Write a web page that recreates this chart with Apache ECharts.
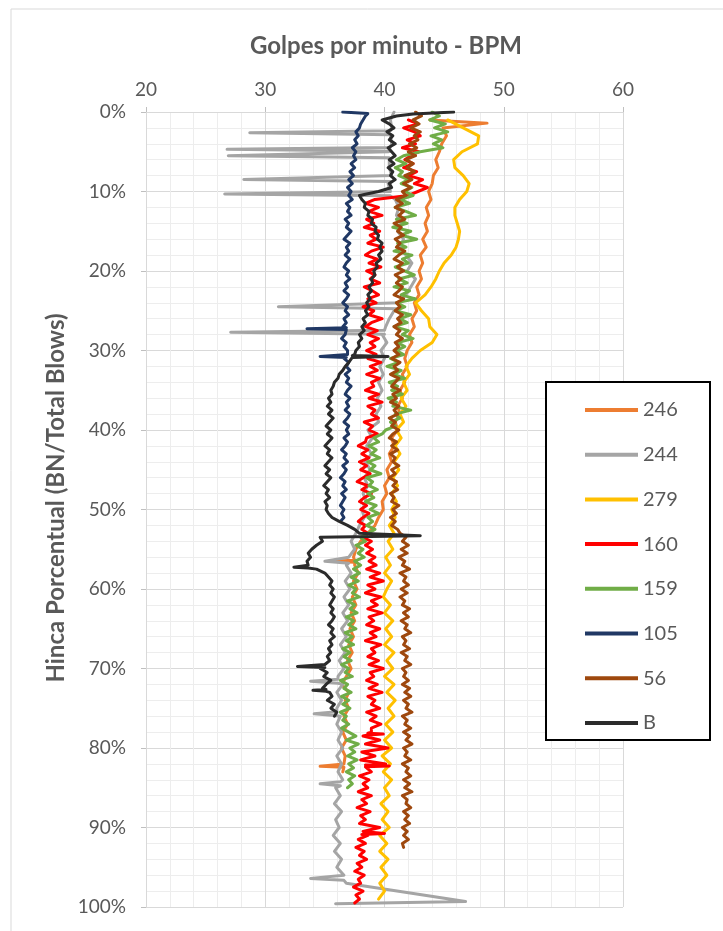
<!DOCTYPE html>
<html>
<head>
<meta charset="utf-8">
<script src="https://cdn.jsdelivr.net/npm/echarts@6/dist/echarts.min.js"></script>
<style>
  html, body { margin: 0; padding: 0; background: #ffffff; }
  #chart { width: 723px; height: 931px; }
</style>
</head>
<body>
<div id="chart"></div>
<script>
// Blow rate (BPM) against driving progress (% of total blows) for each pile.
const seriesNames = ['246', '244', '279', '160', '159', '105', '56', 'B'];
const seriesColors = ['#ED7D31', '#A5A5A5', '#FFC000', '#FF0000', '#70AD47', '#203864', '#9E480E', '#2B2B2B'];
const xTicks = [20, 30, 40, 50, 60];

// Each record: first depth (%), depth step (%), BPM readings at each step.
// Spikes are short excursions: [depth, bpm on the line, bpm at the tip].
const start246 = 1, step246 = 1;
const bpm246 = [
  43.8, 44.9, 45.2, 44.8, 44.6, 44.3, 44.5, 44.1, 44.0, 43.7,
  43.9, 43.5, 43.7, 43.4, 43.6, 43.2, 43.5, 43.0, 43.2, 42.9,
  43.1, 42.7, 42.9, 42.5, 42.7, 42.3, 42.5, 42.1, 42.3, 41.9,
  41.7, 41.9, 41.5, 41.7, 41.3, 41.5, 41.1, 41.3, 40.9, 41.1,
  40.6, 40.8, 40.4, 40.6, 40.2, 40.4, 40.0, 40.2, 39.8, 39.9,
  39.5, 39.2, 38.6, 38.0, 37.6, 37.4, 37.5, 37.8, 37.4, 37.7,
  37.3, 37.6, 37.2, 37.5, 37.1, 37.4, 37.0, 37.3, 36.9, 37.2,
  36.8, 36.4, 37.0, 36.7, 37.0, 36.6, 36.9, 36.5, 36.8, 36.4,
  36.7, 36.6, 36.5
];
const extra246 = [[1.4, 48.6]];
const spikes246 = [[56.5, 37.5, 35.4], [82.3, 36.6, 34.6]];

const start244 = 0, step244 = 1;
const bpm244 = [
  40.8, 40.5, 40.6, 40.4, 40.6, 40.3, 40.5, 40.4, 40.6, 40.3,
  40.5, 40.9, 41.2, 41.0, 41.4, 41.1, 41.6, 41.3, 41.8, 42.3,
  41.9, 42.6, 42.2, 41.8, 41.2, 40.8, 40.4, 40.1, 39.8, 40.2,
  39.7, 40.0, 39.6, 39.9, 39.5, 39.8, 39.4, 39.7, 39.3, 39.5,
  38.6, 39.0, 38.5, 38.9, 38.4, 38.8, 38.3, 38.6, 38.2, 38.5,
  38.1, 38.3, 37.9, 37.6, 37.2, 37.5, 37.0, 36.8, 37.2, 36.7,
  37.1, 36.6, 37.0, 36.5, 36.9, 36.4, 36.8, 36.3, 36.7, 36.2,
  36.6, 36.1, 36.5, 36.0, 36.4, 36.0, 36.3, 36.0, 36.4, 36.1,
  36.5, 36.0, 36.4, 36.1, 36.5, 35.9, 36.3, 35.8, 36.4, 35.9,
  36.2, 35.7, 36.3, 35.8, 36.4, 36.0, 36.6
];
const extra244 = [[97.0, 36.8], [99.3, 46.8], [99.6, 35.9]];
const spikes244 = [
  [2.6, 40.5, 28.7], [4.7, 40.5, 26.8], [5.5, 40.4, 26.9], [8.5, 40.5, 28.2],
  [10.3, 40.5, 26.6], [24.5, 41.2, 31.1], [27.7, 40.0, 27.1], [56.5, 37.0, 35.0],
  [71.6, 36.1, 33.8], [75.7, 36.0, 34.1], [84.5, 36.3, 34.6], [96.4, 36.6, 33.8]
];

const start279 = 1, step279 = 1;
const bpm279 = [
  45.3, 46.6, 47.9, 47.8, 46.5, 45.8, 45.9, 46.6, 47.1, 46.9,
  46.3, 45.9, 45.9, 46.1, 46.3, 46.2, 46.0, 45.6, 45.0, 44.6,
  44.3, 43.9, 43.4, 42.6, 43.1, 43.7, 43.8, 44.4, 44.0, 43.0,
  42.3, 41.8, 42.1, 41.6, 41.9, 41.4, 41.8, 41.3, 41.6, 41.0,
  41.4, 40.9, 41.3, 40.8, 41.2, 40.7, 41.1, 40.6, 41.0, 40.6,
  40.9, 40.4, 40.8, 40.3, 40.7, 40.1, 40.5, 40.0, 40.6, 40.2,
  39.9, 40.5, 40.0, 40.7, 40.1, 40.6, 40.0, 40.8, 40.2, 40.7,
  40.0, 40.8, 40.2, 40.9, 40.3, 40.8, 40.1, 40.7, 40.0, 40.6,
  39.8, 40.5, 39.9, 40.6, 40.0, 40.4, 39.7, 40.3, 39.8, 40.4,
  39.6, 40.2, 39.6, 40.3, 39.7, 40.2, 39.6, 40.0, 39.5
];
const extra279 = [];
const spikes279 = [];

const start160 = 1, step160 = 0.5;
const bpm160 = [
  42.0, 42.8, 41.6, 42.5, 43.0, 41.9, 42.6, 41.5, 42.9, 42.2,
  41.7, 42.4, 41.6, 42.7, 42.0, 43.2, 42.5, 43.6, 42.8, 42.0,
  39.2, 38.4, 39.5, 38.7, 39.8, 38.5, 39.1, 38.3, 39.6, 38.8,
  39.3, 38.6, 39.9, 38.9, 38.4, 39.4, 38.7, 39.7, 38.5, 39.2,
  38.8, 39.6, 38.3, 39.0, 39.5, 38.6, 39.3, 38.2, 39.1, 38.7,
  39.8, 38.9, 38.4, 39.4, 38.6, 39.5, 38.8, 39.2, 38.5,
  39.3, 38.6, 39.7, 38.8, 39.4, 38.5, 39.6, 38.9, 39.1, 38.4,
  39.5, 38.7, 39.8, 38.6, 39.2, 38.9, 39.5, 38.3, 39.0, 38.7,
  39.4, 38.5,
  38.4, 37.8, 38.6, 38.1, 38.7, 37.9, 38.5, 38.0, 38.8, 38.2,
  37.7, 38.6, 38.1, 38.9, 38.3, 37.9, 38.5, 38.0, 38.7, 38.2,
  37.8, 38.4, 38.1,
  38.6, 38.2, 38.9, 38.4, 39.0, 38.5, 39.2, 38.7,
  39.3, 38.5, 39.6, 38.8, 39.9, 38.6, 39.2, 38.4, 39.7, 38.9,
  39.4, 38.6, 39.8, 38.7, 39.1, 38.5, 39.6, 38.8, 39.3, 38.4,
  39.7, 38.9, 39.2, 38.6, 39.5, 38.7, 39.9, 38.8, 39.1, 38.5,
  39.4, 38.7, 39.8, 38.6, 39.2, 38.9, 39.6, 38.5, 39.3, 38.8,
  39.7, 38.9,
  38.9, 38.2, 39.6, 38.4, 40.3, 38.1, 39.2, 38.0, 40.1, 38.5,
  38.9, 37.9, 38.7, 38.2, 38.6, 37.8, 38.9, 38.1, 38.5, 37.7,
  38.8, 38.0, 38.4, 37.9, 39.6, 38.2, 38.6, 37.8, 38.4, 37.6,
  38.3, 37.9, 38.5, 37.7, 38.1, 37.5, 38.3, 37.8, 38.0, 37.4,
  38.2, 37.6, 37.9, 37.5
];
const extra160 = [];
const spikes160 = [[78.25, 38.6, 39.9], [82.25, 38.4, 40.4], [90.75, 38.1, 40.0]];

const start159 = 0, step159 = 0.5;
const bpm159 = [
  44.0, 44.6, 43.8, 45.1, 44.2, 45.3, 43.9, 44.8, 44.1, 44.9,
  43.0, 41.6, 41.0, 41.8, 40.9, 41.5, 41.2, 42.0, 41.4, 42.3, 41.7,
  42.4, 41.3, 42.1, 40.9, 41.8, 42.6, 41.0, 41.9, 40.7, 42.2,
  41.4, 42.7, 41.1, 41.8, 40.8, 42.3, 41.5, 42.0, 40.9, 41.7,
  42.5, 41.2, 41.9, 40.8, 42.1, 41.4, 42.6, 41.0, 41.7, 40.9,
  42.2, 41.3, 41.9, 40.8, 42.0, 41.5, 42.4, 41.1, 41.7, 41.0,
  41.6, 40.5, 41.2, 40.2, 41.4, 40.8, 41.7, 40.4, 41.1, 40.6,
  41.5, 40.3, 41.0, 40.7, 42.2, 40.9, 41.3, 40.5, 40.9, 40.1,
  39.8, 39.1, 39.5, 38.7, 39.3, 38.9, 39.6, 38.6, 39.2, 38.8,
  39.7, 38.5, 39.0, 38.7, 39.4, 38.6, 39.1, 38.4, 39.3, 38.8,
  39.5, 38.6, 39.0, 38.5, 39.2,
  38.6, 38.0, 38.4, 37.6, 38.2, 37.8, 38.3, 37.5, 38.0,
  37.4, 37.9, 37.2, 37.8, 37.0, 37.6, 37.3, 37.9, 36.9, 37.5,
  37.1, 37.7, 36.8, 37.4, 37.0, 37.6,
  36.7, 37.3, 36.8, 37.4, 36.5, 37.1, 36.6, 37.2, 36.4, 37.0,
  36.7, 37.3, 36.3, 36.9, 36.6, 37.2, 36.4, 37.0, 36.5, 37.1,
  36.3, 36.8, 36.5, 37.0, 36.4,
  37.0, 37.6, 36.8, 37.8, 37.1, 37.5, 36.9, 37.7, 37.0, 37.4,
  36.8, 37.5, 37.0, 37.3, 36.9
];
const extra159 = [];
const spikes159 = [];

const start105 = 0.5, step105 = 0.5;
const bpm105 = [
  38.4, 38.2, 38.0, 37.9, 37.6, 37.8, 37.5, 37.7, 37.3, 37.6,
  37.4, 37.6, 37.2, 37.5, 37.1, 37.4, 37.0, 37.3, 36.9, 37.2,
  37.0, 37.3, 36.8, 37.1, 36.9, 37.2, 36.7, 37.0, 36.8, 37.2,
  36.9, 36.6, 37.1, 36.8, 37.0, 36.7, 37.1, 36.8, 36.6, 37.0,
  36.8, 37.1, 36.7, 36.9, 36.6, 37.0, 36.8, 36.5, 36.9, 36.7,
  37.0, 36.6, 36.8, 36.5, 36.9, 36.7, 36.4, 36.8, 36.6, 36.9,
  36.9, 36.6, 37.0, 36.8, 37.1, 36.7, 37.0, 36.8, 37.2, 36.9,
  36.7, 37.1, 36.8, 37.0, 36.7, 37.1, 36.9, 36.6, 37.0, 36.8,
  37.0, 36.6, 36.9, 36.7, 36.4, 36.8, 36.6, 36.9, 36.5, 36.8,
  36.6, 36.3, 36.7, 36.5, 36.8, 36.4, 36.7, 36.5, 36.3, 36.6,
  36.4, 36.6, 36.3
];
const extra105 = [[0, 36.5], [0.2, 38.6]];
const spikes105 = [[27.25, 36.8, 33.5], [30.75, 36.8, 34.6]];

const start56 = 0, step56 = 0.5;
const bpm56 = [
  42.6, 43.1, 42.4, 42.9, 42.2, 43.0, 42.5, 42.8, 42.1, 42.7,
  42.0, 42.6, 41.8, 42.4, 41.9, 42.5, 41.7, 42.3, 41.6, 42.2, 41.5,
  41.8, 41.0, 41.5, 40.9, 41.6, 41.2, 41.7, 40.8, 41.4, 41.1,
  41.6, 40.9, 41.3, 41.0, 41.7, 41.2, 40.8, 41.5, 41.1, 41.6,
  40.9, 41.4, 41.0, 41.5, 41.2, 40.8, 41.6, 41.0, 41.3, 40.9,
  41.5, 41.1, 41.4, 40.8, 41.3, 41.0, 41.5, 40.9, 41.2, 40.8,
  41.2, 40.6, 41.3, 40.8, 41.1, 40.5, 41.2, 40.9, 40.6, 41.3,
  40.7, 41.0, 40.5, 41.2, 40.8, 41.1, 40.4, 40.9, 40.6, 41.2,
  40.7, 40.4, 41.0, 40.6, 41.1, 40.5, 40.9, 40.7, 41.2, 40.6,
  40.9, 40.4, 41.0, 40.7, 41.1, 40.5, 40.8, 40.6, 41.2, 40.7,
  41.0, 40.5, 40.9, 40.6, 41.1,
  41.3, 41.8, 41.5, 42.0, 41.4, 41.9, 41.2, 41.7, 41.5, 42.1,
  41.3, 41.8, 41.6, 42.0, 41.4, 41.9, 41.3, 41.7, 41.5, 42.1,
  41.6, 42.0, 41.4, 41.9, 41.7, 42.2, 41.5, 41.8, 41.6, 42.1,
  41.4, 41.9, 41.7, 42.2, 41.5, 41.8, 41.6, 42.0, 41.5, 42.1,
  41.7, 42.2, 41.6, 42.0, 41.8, 42.3, 41.5, 41.9, 41.7, 42.2,
  41.6, 42.1, 41.8, 42.3, 41.6, 41.9, 41.7, 42.2, 41.5, 42.0,
  41.8, 42.2, 41.6, 42.1, 41.7, 42.3, 41.5, 41.9, 41.8, 42.2,
  41.6, 42.0, 41.7, 42.1, 41.5, 41.9, 41.6, 42.0, 41.5, 41.6
];
const extra56 = [];
const spikes56 = [];

const startB = 0.5, stepB = 0.5;
const bpmB = [
  41.0, 39.8, 40.4, 40.8, 40.2, 40.7, 40.4, 40.9, 40.3, 40.6,
  40.9, 40.4, 40.8, 40.3, 40.7, 40.5, 40.9, 40.4, 40.6,
  39.5, 37.9, 38.1, 38.4, 38.3, 38.7, 38.6, 39.0, 38.9, 39.3, 39.2,
  39.5, 39.4, 39.8, 39.6, 39.8, 39.5, 39.7, 39.3, 39.4, 39.1,
  39.2, 38.9, 39.0, 38.7, 38.9, 38.6, 38.8, 38.5, 38.7, 38.4,
  38.6, 38.2, 38.4, 38.1, 38.3, 37.9, 38.1, 37.8, 37.9, 37.6,
  37.5, 37.2, 37.0, 36.7, 36.5, 36.2, 36.1, 35.8, 35.7, 35.5, 35.6, 35.3,
  35.5, 35.2, 35.6, 35.3, 35.7, 35.4, 35.1, 35.5, 35.2, 35.6,
  35.3, 35.0, 35.4, 35.2, 35.6, 35.3, 35.0, 35.4, 35.1, 35.5,
  35.2, 34.9, 35.3, 35.1, 35.4, 35.0, 35.2, 35.1, 35.3,
  35.6, 36.2, 36.9, 37.5, 37.9,
  34.6,
  34.8, 34.3, 33.9, 33.6, 33.8, 33.5, 33.6, 34.3, 35.0,
  35.3, 35.6, 35.4, 35.7, 35.5, 35.8, 35.6, 35.4, 35.7, 35.5,
  35.8, 35.6, 35.3, 35.7, 35.5, 35.8, 35.4, 35.6, 35.3, 35.5,
  35.2, 35.4, 35.0,
  34.6, 35.2, 34.9, 35.5, 35.1, 34.8, 35.4, 35.6, 35.2, 35.8,
  35.5, 36.0, 35.8
];
const extraB = [[0, 45.8], [0.25, 42.4], [53.3, 43.0]];
const spikesB = [[30.75, 37.3, 40.3], [57.25, 33.6, 32.4], [69.75, 35.0, 32.7], [72.75, 35.1, 34.0]];

// Turn a record into [bpm, depth] pairs ordered by depth.
function track(start, step, values, extra, spikes, halfWidth) {
  const pts = values.map((v, i) => [v, start + i * step]);
  extra.forEach(([d, v]) => pts.push([v, d]));
  spikes.forEach(([d, base, tip]) => {
    pts.push([base, d - halfWidth], [tip, d], [base, d + halfWidth]);
  });
  pts.sort((a, b) => a[1] - b[1]);
  return pts;
}

const tracks = [
  track(start246, step246, bpm246, extra246, spikes246, 0.12),
  track(start244, step244, bpm244, extra244, spikes244, 0.25),
  track(start279, step279, bpm279, extra279, spikes279, 0.12),
  track(start160, step160, bpm160, extra160, spikes160, 0.12),
  track(start159, step159, bpm159, extra159, spikes159, 0.12),
  track(start105, step105, bpm105, extra105, spikes105, 0.12),
  track(start56, step56, bpm56, extra56, spikes56, 0.12),
  track(startB, stepB, bpmB, extraB, spikesB, 0.12)
];

const FONT = 'Lato, "Open Sans", sans-serif';
const chart = echarts.init(document.getElementById('chart'), null, { renderer: 'canvas' });

chart.setOption({
  animation: false,
  backgroundColor: '#ffffff',
  textStyle: { fontFamily: FONT },
  grid: { left: 146, right: 100, top: 112, bottom: 24 },
  xAxis: {
    type: 'value',
    position: 'top',
    min: xTicks[0],
    max: xTicks[xTicks.length - 1],
    interval: 10,
    axisLine: { show: true, onZero: false, lineStyle: { color: '#D9D9D9', width: 1 } },
    axisTick: { show: true, inside: false, length: 5, lineStyle: { color: '#BFBFBF' } },
    axisLabel: { color: '#595959', fontSize: 19, fontFamily: FONT, margin: 13 },
    splitLine: { show: true, lineStyle: { color: '#D9D9D9', width: 1 } },
    minorTick: { show: false, splitNumber: 5 },
    minorSplitLine: { show: true, lineStyle: { color: '#EDEDED', width: 1 } }
  },
  yAxis: {
    type: 'value',
    inverse: true,
    min: 0,
    max: 100,
    interval: 10,
    axisLine: { show: true, onZero: false, lineStyle: { color: '#D9D9D9', width: 1 } },
    axisTick: { show: true, inside: false, length: 5, lineStyle: { color: '#BFBFBF' } },
    axisLabel: { color: '#595959', fontSize: 19, fontFamily: FONT, margin: 20, formatter: '{value}%' },
    splitLine: { show: true, lineStyle: { color: '#D9D9D9', width: 1 } },
    minorTick: { show: false, splitNumber: 5 },
    minorSplitLine: { show: true, lineStyle: { color: '#EDEDED', width: 1 } }
  },
  legend: {
    orient: 'vertical',
    left: 580,
    top: 395,
    icon: 'rect',
    itemWidth: 53,
    itemHeight: 4,
    itemGap: 24.7,
    selectedMode: false,
    z: 5,
    textStyle: { color: '#595959', fontSize: 20, fontFamily: FONT, lineHeight: 20 },
    data: seriesNames
  },
  graphic: [
    {
      type: 'rect', z: -1, silent: true,
      shape: { x: 11, y: 9, width: 800, height: 1000 },
      style: { fill: 'none', stroke: '#D9D9D9', lineWidth: 1 }
    },
    {
      type: 'rect', z: 3, silent: true,
      shape: { x: 546, y: 382, width: 164, height: 358 },
      style: { fill: '#ffffff', stroke: '#000000', lineWidth: 2 }
    },
    {
      type: 'text', z: 5, silent: true, x: 386, y: 46,
      style: {
        text: 'Golpes por minuto - BPM', fill: '#595959', font: 'bold 24px ' + FONT,
        textAlign: 'center', align: 'center', textVerticalAlign: 'middle', verticalAlign: 'middle'
      }
    },
    {
      type: 'text', z: 5, silent: true, x: 56, y: 498, rotation: Math.PI / 2,
      style: {
        text: 'Hinca Porcentual (BN/Total Blows)', fill: '#595959', font: 'bold 24px ' + FONT,
        textAlign: 'center', align: 'center', textVerticalAlign: 'middle', verticalAlign: 'middle'
      }
    }
  ],
  series: seriesNames.map((name, i) => ({
    name: name,
    type: 'line',
    data: tracks[i],
    symbol: 'none',
    showSymbol: false,
    smooth: false,
    sampling: null,
    clip: true,
    silent: true,
    itemStyle: { color: seriesColors[i] },
    lineStyle: { color: seriesColors[i], width: 3, join: 'round', cap: 'round' },
    z: 2
  }))
});
</script>
</body>
</html>
